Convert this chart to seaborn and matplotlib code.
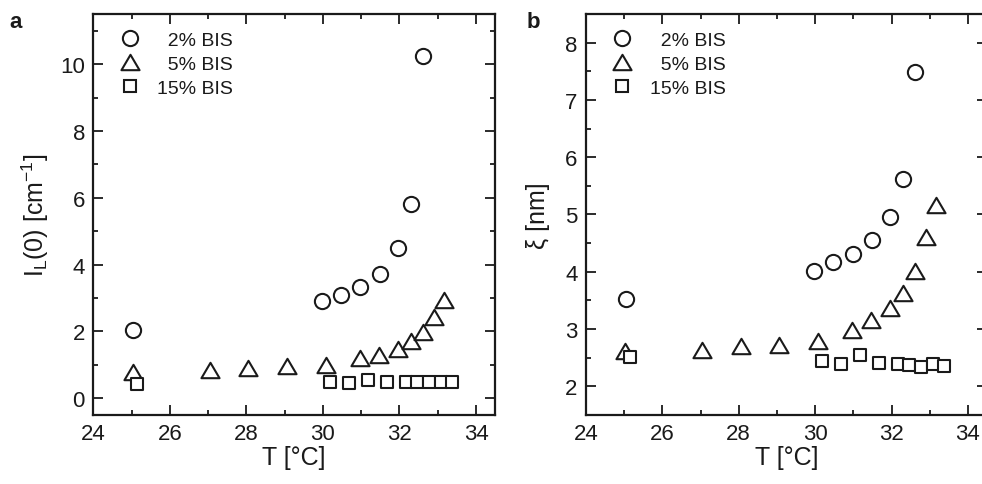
import numpy as np
import pandas as pd
import matplotlib
matplotlib.use("Agg")
import matplotlib.pyplot as plt
from matplotlib.ticker import MultipleLocator
from matplotlib.lines import Line2D
from matplotlib.path import Path
import seaborn as sns

# Temperatures [°C] for the three crosslinker contents
T_2 = [25.05, 29.97, 30.48, 30.98, 31.48, 31.97, 32.30, 32.61]
T_5 = [25.03, 27.05, 28.05, 29.05, 30.07, 30.97, 31.47, 31.97, 32.31, 32.61, 32.89, 33.16]
T_15 = [25.15, 30.18, 30.68, 31.18, 31.68, 32.18, 32.47, 32.78, 33.08, 33.38]

# Panel a: forward scattering intensity I_L(0) [cm^-1]
I_2 = [2.05, 2.90, 3.10, 3.32, 3.73, 4.50, 5.80, 10.24]
I_5 = [0.80, 0.86, 0.90, 0.96, 1.01, 1.20, 1.30, 1.48, 1.70, 1.98, 2.43, 2.95]
I_15 = [0.43, 0.48, 0.45, 0.55, 0.49, 0.48, 0.48, 0.48, 0.48, 0.48]

# Panel b: correlation length xi [nm]
xi_2 = [3.52, 4.02, 4.17, 4.31, 4.55, 4.95, 5.62, 7.49]
xi_5 = [2.61, 2.64, 2.71, 2.73, 2.79, 2.99, 3.15, 3.36, 3.63, 4.01, 4.61, 5.17]
xi_15 = [2.51, 2.45, 2.39, 2.54, 2.41, 2.39, 2.37, 2.33, 2.39, 2.36]

labels = ["  2% BIS", "  5% BIS", "15% BIS"]

sns.set_theme(style="ticks")
plt.rcParams["font.family"] = ["Liberation Sans", "DejaVu Sans"]
plt.rcParams["mathtext.fontset"] = "custom"
plt.rcParams["mathtext.rm"] = "Liberation Sans"
plt.rcParams["mathtext.it"] = "Liberation Sans:italic"
plt.rcParams["mathtext.bf"] = "Liberation Sans:bold"

INK = "#1a1a1a"
# slightly flattened open triangle
tri = Path([(-1.0, -0.85), (1.0, -0.85), (0.0, 0.85), (-1.0, -0.85)],
           [Path.MOVETO, Path.LINETO, Path.LINETO, Path.CLOSEPOLY])
styles = [("o", 120), (tri, 170), ("s", 75)]
EDGE_W = 1.5

fig = plt.figure(figsize=(9.82, 4.85), dpi=100)
ax_a = fig.add_axes([0.0950, 0.1423, 0.4092, 0.8268])
ax_b = fig.add_axes([0.5967, 0.1423, 0.4084, 0.8268])


def draw(ax, ys):
    series = [(T_2, ys[0]), (T_5, ys[1]), (T_15, ys[2])]
    handles = []
    for (xs, yv), (mk, s), lab in zip(series, styles, labels):
        df = pd.DataFrame({"T": xs, "v": yv})
        sns.scatterplot(data=df, x="T", y="v", ax=ax, marker=mk, s=s,
                        facecolor="white", edgecolor=INK, linewidth=EDGE_W,
                        legend=False, zorder=3)
        handles.append(Line2D([], [], ls="none", marker=mk,
                              markersize=np.sqrt(s), markerfacecolor="white",
                              markeredgecolor=INK, markeredgewidth=EDGE_W))
    leg = ax.legend(handles, labels, loc="upper left",
                    bbox_to_anchor=(0.028, 0.99), frameon=False,
                    fontsize=14, handletextpad=0.8, labelspacing=0.33,
                    borderaxespad=0.3, handlelength=1.2)
    for t in leg.get_texts():
        t.set_color(INK)
    ax.set_xlim(24, 34.5)
    ax.xaxis.set_major_locator(MultipleLocator(2))
    ax.xaxis.set_minor_locator(MultipleLocator(1))
    ax.tick_params(which="both", direction="in", top=True, right=True,
                   width=1.3, colors=INK, labelsize=16, pad=6)
    ax.tick_params(which="major", length=7)
    ax.tick_params(which="minor", length=3.5)
    for sp in ax.spines.values():
        sp.set_linewidth(1.6)
        sp.set_color(INK)
    ax.set_xlabel("T [°C]", fontsize=18, color=INK)
    ax.xaxis.set_label_coords(0.5, -0.075)


draw(ax_a, [I_2, I_5, I_15])
ax_a.set_ylim(-0.5, 11.5)
ax_a.yaxis.set_major_locator(MultipleLocator(2))
ax_a.yaxis.set_minor_locator(MultipleLocator(1))
ax_a.set_ylabel(r"I$_\mathrm{L}$(0) [cm$^{\mathrm{-1}}$]", fontsize=18, color=INK)
ax_a.yaxis.set_label_coords(-0.105, 0.5)

draw(ax_b, [xi_2, xi_5, xi_15])
ax_b.set_ylim(1.5, 8.5)
ax_b.yaxis.set_major_locator(MultipleLocator(1))
ax_b.yaxis.set_minor_locator(MultipleLocator(0.5))
ax_b.set_ylabel("ξ [nm]", fontsize=18, color=INK)
ax_b.yaxis.set_label_coords(-0.09, 0.5)

fig.text(0.010, 0.975, "a", fontsize=16, fontweight="bold", color=INK, va="top")
fig.text(0.536, 0.975, "b", fontsize=16, fontweight="bold", color=INK, va="top")

fig.savefig("out.png", dpi=100)
